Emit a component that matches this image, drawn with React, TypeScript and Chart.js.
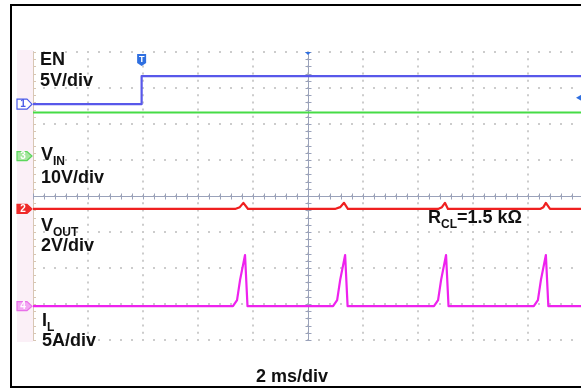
import React, { useEffect, useRef } from "react";
import { Chart, registerables } from "chart.js";

Chart.register(...registerables);

// Time axis: 10 divisions x 2 ms/div; vertical axis: 8 divisions (-4..4)
const X_MIN_MS = 0;
const X_MAX_MS = 20;
const X_STEP_MS = 2;
const Y_MIN_DIV = -4;
const Y_MAX_DIV = 4;
const CENTER_MS = 10;
const TRIGGER_MS = 3.95;
const TRIGGER_LEVEL_DIV = 2.73;

// EN (ch1, blue)
const EN_T = [0, 3.95, 3.95, 20];
const EN_V = [2.55, 2.55, 3.33, 3.33];

// VIN (ch3, green)
const VIN_T = [0, 20];
const VIN_V = [2.32, 2.32];

// VOUT (ch2, red)
const VOUT_T = [0, 7.35, 7.52, 7.65, 7.82, 10.98, 11.17, 11.31, 11.45, 14.73, 14.87, 14.98, 15.09, 18.44, 18.56, 18.65, 18.8, 20];
const VOUT_V = [-0.36, -0.36, -0.31, -0.19, -0.36, -0.36, -0.31, -0.19, -0.36, -0.36, -0.31, -0.19, -0.36, -0.36, -0.31, -0.19, -0.36, -0.36];

// IL (ch4, magenta)
const IL_T = [0, 7.27, 7.42, 7.53, 7.71, 7.8, 10.91, 11.06, 11.17, 11.35, 11.44, 14.58, 14.73, 14.84, 15.02, 15.11, 18.21, 18.36, 18.47, 18.65, 18.74, 20];
const IL_V = [-3.06, -3.06, -2.89, -2.33, -1.64, -3.06, -3.06, -2.89, -2.33, -1.64, -3.06, -3.06, -2.89, -2.33, -1.64, -3.06, -3.06, -2.89, -2.33, -1.64, -3.06, -3.06];

// Channel ground markers on the left edge
const MARKER_LABELS = ["1", "3", "2", "4"];
const MARKER_LEVELS = [2.55, 1.11, -0.36, -3.06];

const EN_COLOR = "#5858ea";
const VIN_COLOR = "#46dc46";
const VOUT_COLOR = "#ef2020";
const IL_COLOR = "#ee22ee";

const pts = (t: number[], v: number[]) => t.map((x, i) => ({ x, y: v[i] }));

const markerStyles = [
  { fill: "#ffffff", stroke: "#4a5ae8", text: "#4a5ae8", h: 5 },
  { fill: "#a6e6a0", stroke: "#5cd65c", text: "#ffffff", h: 4.5 },
  { fill: "#ef2a2a", stroke: "#ef2a2a", text: "#ffffff", h: 4.5 },
  { fill: "#f3a6f3", stroke: "#e870e8", text: "#ffffff", h: 4.5 },
];

const scopePlugin = {
  id: "scope",
  beforeDatasetsDraw(chart: any) {
    const { ctx, chartArea: a, scales } = chart;
    const x = scales.x;
    const y = scales.y;
    ctx.save();
    // pink side band
    ctx.fillStyle = "#fbf0f7";
    ctx.fillRect(a.left - 16, a.top - 2, 16, a.bottom - a.top + 4);
    // left edge with ticks
    ctx.strokeStyle = "#d8c6b4";
    ctx.lineWidth = 1;
    ctx.beginPath();
    ctx.moveTo(a.left + 0.5, a.top);
    ctx.lineTo(a.left + 0.5, a.bottom);
    for (let v = Y_MIN_DIV; v <= Y_MAX_DIV + 1e-6; v += 0.2) {
      const py = Math.round(y.getPixelForValue(v)) + 0.5;
      ctx.moveTo(a.left, py);
      ctx.lineTo(a.left + 3, py);
    }
    ctx.stroke();
    // center axes
    const cx = Math.round(x.getPixelForValue(CENTER_MS)) + 0.5;
    const cy = Math.round(y.getPixelForValue(0)) + 0.5;
    ctx.strokeStyle = "#9aa2ba";
    ctx.beginPath();
    ctx.moveTo(a.left, cy);
    ctx.lineTo(a.right, cy);
    ctx.moveTo(cx, a.top);
    ctx.lineTo(cx, a.bottom);
    for (let t = X_MIN_MS; t <= X_MAX_MS + 1e-6; t += 0.4) {
      const px = Math.round(x.getPixelForValue(t)) + 0.5;
      ctx.moveTo(px, cy - 3);
      ctx.lineTo(px, cy + 3);
    }
    for (let v = Y_MIN_DIV; v <= Y_MAX_DIV + 1e-6; v += 0.2) {
      const py = Math.round(y.getPixelForValue(v)) + 0.5;
      ctx.moveTo(cx - 3, py);
      ctx.lineTo(cx + 3, py);
    }
    ctx.stroke();
    ctx.restore();
  },
  afterDatasetsDraw(chart: any) {
    const { ctx, chartArea: a, scales } = chart;
    const x = scales.x;
    const y = scales.y;
    ctx.save();
    // channel markers
    MARKER_LEVELS.forEach((lv, i) => {
      const py = y.getPixelForValue(lv);
      const s = markerStyles[i];
      const l = a.left - 16;
      ctx.beginPath();
      ctx.moveTo(l, py - s.h);
      ctx.lineTo(l + 10, py - s.h);
      ctx.lineTo(l + 15, py);
      ctx.lineTo(l + 10, py + s.h);
      ctx.lineTo(l, py + s.h);
      ctx.closePath();
      ctx.fillStyle = s.fill;
      ctx.fill();
      ctx.strokeStyle = s.stroke;
      ctx.lineWidth = 1.2;
      ctx.stroke();
      ctx.fillStyle = s.text;
      ctx.font = "bold 10px 'Liberation Sans', Arial, sans-serif";
      ctx.textAlign = "center";
      ctx.textBaseline = "middle";
      ctx.fillText(MARKER_LABELS[i], l + 6, py + 0.5);
    });
    // trigger position marker
    const tx = x.getPixelForValue(TRIGGER_MS);
    ctx.fillStyle = "#2f6fe0";
    ctx.beginPath();
    ctx.moveTo(tx - 4.5, a.top + 2);
    ctx.lineTo(tx + 4.5, a.top + 2);
    ctx.lineTo(tx + 4.5, a.top + 11);
    ctx.lineTo(tx, a.top + 14);
    ctx.lineTo(tx - 4.5, a.top + 11);
    ctx.closePath();
    ctx.fill();
    ctx.fillStyle = "#ffffff";
    ctx.font = "bold 9px 'Liberation Sans', Arial, sans-serif";
    ctx.textAlign = "center";
    ctx.textBaseline = "middle";
    ctx.fillText("T", tx, a.top + 7.5);
    // center top marker
    const cx = x.getPixelForValue(CENTER_MS);
    ctx.fillStyle = "#2f6fe0";
    ctx.beginPath();
    ctx.moveTo(cx - 3, a.top);
    ctx.lineTo(cx + 3, a.top);
    ctx.lineTo(cx, a.top + 3);
    ctx.closePath();
    ctx.fill();
    // trigger level marker on right edge
    const ly = y.getPixelForValue(TRIGGER_LEVEL_DIV);
    const rx = x.getPixelForValue(X_MAX_MS);
    ctx.beginPath();
    ctx.moveTo(rx - 7, ly);
    ctx.lineTo(rx, ly - 4);
    ctx.lineTo(rx, ly + 4);
    ctx.closePath();
    ctx.fill();
    ctx.restore();
  },
};

const textBase: React.CSSProperties = {
  position: "absolute",
  fontFamily: "'Liberation Sans', Arial, sans-serif",
  fontWeight: "bold",
  fontSize: 18,
  lineHeight: "18px",
  color: "#111",
  whiteSpace: "nowrap",
};

const sub: React.CSSProperties = {
  fontSize: 12,
  position: "relative",
  top: 5,
};

export default function App() {
  const canvasRef = useRef<HTMLCanvasElement | null>(null);

  useEffect(() => {
    const canvas = canvasRef.current;
    if (!canvas) return;
    const ds = (label: string, t: number[], v: number[], color: string) => ({
      label,
      data: pts(t, v),
      borderColor: color,
      borderWidth: 2.2,
      pointRadius: 0,
      tension: 0,
      fill: false,
      borderJoinStyle: "round" as const,
    });
    const chart = new Chart(canvas, {
      type: "line",
      data: {
        datasets: [
          ds("IL", IL_T, IL_V, IL_COLOR),
          ds("VOUT", VOUT_T, VOUT_V, VOUT_COLOR),
          ds("VIN", VIN_T, VIN_V, VIN_COLOR),
          ds("EN", EN_T, EN_V, EN_COLOR),
        ],
      },
      options: {
        animation: false,
        responsive: false,
        devicePixelRatio: 1,
        layout: { padding: { left: 33, top: 52, right: 17, bottom: 49 } },
        plugins: { legend: { display: false }, tooltip: { enabled: false } },
        scales: {
          x: {
            type: "linear",
            min: X_MIN_MS,
            max: X_MAX_MS,
            ticks: { display: false, stepSize: X_STEP_MS },
            grid: { color: "#cccccc", lineWidth: 2, drawTicks: false },
            border: { display: false, dash: [2, 5.2], dashOffset: 1 },
          },
          y: {
            type: "linear",
            min: Y_MIN_DIV,
            max: Y_MAX_DIV,
            ticks: { display: false, stepSize: 1 },
            grid: { color: "#cccccc", lineWidth: 2, drawTicks: false },
            border: { display: false, dash: [2, 9], dashOffset: 1 },
          },
        },
      },
      plugins: [scopePlugin],
    });
    return () => chart.destroy();
  }, []);

  return (
    <div
      style={{
        position: "fixed",
        left: 0,
        top: 0,
        width: 581,
        height: 389,
        overflow: "hidden",
        background: "#fff",
      }}
    >
      <div
        style={{
          position: "absolute",
          left: 10,
          top: 4,
          width: 640,
          height: 384,
          boxSizing: "border-box",
          border: "2px solid #000",
        }}
      />
      <canvas
        ref={canvasRef}
        width={600}
        height={389}
        style={{ position: "absolute", left: 0, top: 0, width: 600, height: 389 }}
      />
      <div style={{ ...textBase, left: 40, top: 50 }}>EN</div>
      <div style={{ ...textBase, left: 40, top: 71 }}>5V/div</div>
      <div style={{ ...textBase, left: 41, top: 145 }}>
        V<span style={sub}>IN</span>
      </div>
      <div style={{ ...textBase, left: 41, top: 168 }}>10V/div</div>
      <div style={{ ...textBase, left: 41, top: 216 }}>
        V<span style={sub}>OUT</span>
      </div>
      <div style={{ ...textBase, left: 41, top: 236 }}>2V/div</div>
      <div style={{ ...textBase, left: 42, top: 311 }}>
        I<span style={sub}>L</span>
      </div>
      <div style={{ ...textBase, left: 42, top: 331 }}>5A/div</div>
      <div style={{ ...textBase, left: 428, top: 208 }}>
        R<span style={sub}>CL</span>=1.5 kΩ
      </div>
      <div style={{ ...textBase, left: 256, top: 367 }}>2 ms/div</div>
    </div>
  );
}
